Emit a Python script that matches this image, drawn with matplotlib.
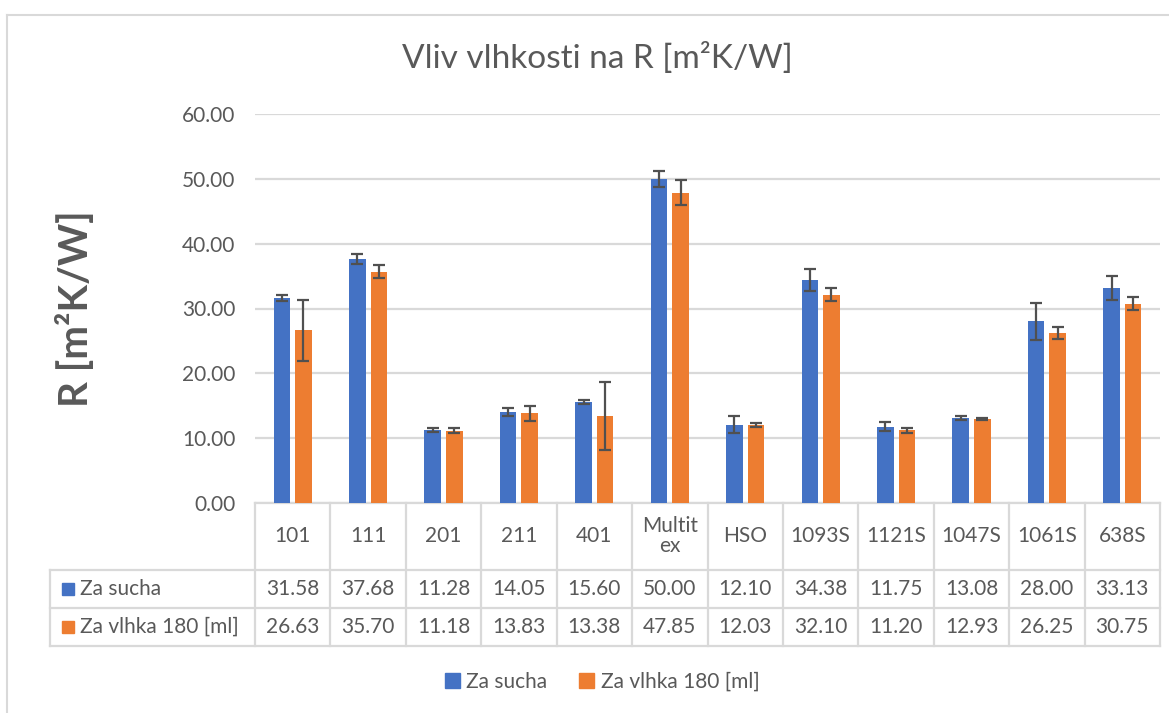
import matplotlib.pyplot as plt
import numpy as np
from matplotlib.patches import Patch, Rectangle
from matplotlib.lines import Line2D
from matplotlib.transforms import blended_transform_factory

# data
labels = ["101", "111", "201", "211", "401", "Multit\nex", "HSO",
          "1093S", "1121S", "1047S", "1061S", "638S"]
sucha = [31.58, 37.68, 11.28, 14.05, 15.60, 50.00, 12.10, 34.38, 11.75, 13.08, 28.00, 33.13]
vlhka = [26.63, 35.70, 11.18, 13.83, 13.38, 47.85, 12.03, 32.10, 11.20, 12.93, 26.25, 30.75]
sucha_err = [0.5, 0.8, 0.35, 0.6, 0.33, 1.2, 1.3, 1.65, 0.7, 0.3, 2.8, 1.85]
vlhka_err = [4.7, 0.95, 0.35, 1.15, 5.25, 1.9, 0.38, 1.0, 0.35, 0.15, 0.95, 1.03]
series_names = ["Za sucha", "Za vlhka 180 [ml]"]
yticks = [0, 10, 20, 30, 40, 50, 60]

blue = "#4472C4"
orange = "#ED7D31"
txt = "#595959"
grid = "#D9D9D9"
font = "Lato"

plt.rcParams['font.family'] = [font, 'DejaVu Sans']

W, H = 1169, 713
fig = plt.figure(figsize=(W / 100, H / 100), dpi=100)

# plot area in pixels
x0, x1, y_top, y_bot = 255, 1160, 114, 503
ax = fig.add_axes([x0 / W, 1 - y_bot / H, (x1 - x0) / W, (y_bot - y_top) / H])

x = np.arange(len(labels))
bw = 0.22
off = 0.143
ekw = dict(ecolor="#505050", elinewidth=1.6, capsize=4.5, capthick=1.6)
ax.bar(x - off, sucha, bw, color=blue, yerr=sucha_err, error_kw=ekw, zorder=3)
ax.bar(x + off, vlhka, bw, color=orange, yerr=vlhka_err, error_kw=ekw, zorder=3)

ax.set_xlim(-0.5, len(labels) - 0.5)
ax.set_ylim(0, 60)
ax.set_yticks(yticks)
ax.set_yticklabels([f"{v:.2f}" for v in yticks], color=txt, fontsize=15)
ax.tick_params(axis="y", length=0, pad=14)
ax.set_xticks([])
ax.grid(axis="y", color=grid, linewidth=1.6, zorder=0)
for s in ["top", "right", "left", "bottom"]:
    ax.spines[s].set_visible(False)

# data table below the axes
tr = blended_transform_factory(ax.transData, ax.transAxes)
def ay(p):
    return (y_bot - p) / (y_bot - y_top)
def axx(p):
    return (p - x0) / (x1 - x0)

lc = dict(color=grid, linewidth=1.6, clip_on=False)
ax.plot([0, 1], [0, 0], transform=ax.transAxes, **lc)
for yy in [570, 608, 646]:
    ax.plot([axx(50), 1], [ay(yy), ay(yy)], transform=ax.transAxes, **lc)
for i in range(len(labels) + 1):
    ax.plot([i - 0.5, i - 0.5], [0, ay(646)], transform=tr, **lc)
ax.plot([axx(50), axx(50)], [ay(570), ay(646)], transform=ax.transAxes, **lc)

for i, lab in enumerate(labels):
    ax.text(i, ay(536.5), lab, transform=tr, ha="center", va="center",
            fontsize=15, color=txt, linespacing=1.0)
    ax.text(i, ay(589), f"{sucha[i]:.2f}", transform=tr, ha="center", va="center",
            fontsize=15, color=txt)
    ax.text(i, ay(627), f"{vlhka[i]:.2f}", transform=tr, ha="center", va="center",
            fontsize=15, color=txt)

for yy, name, col in [(589, series_names[0], blue), (627, series_names[1], orange)]:
    ax.add_patch(Rectangle((axx(62), ay(yy + 6)), axx(74) - axx(62), ay(yy - 6) - ay(yy + 6),
                           transform=ax.transAxes, color=col, clip_on=False))
    ax.text(axx(80), ay(yy), name, transform=ax.transAxes, ha="left", va="center",
            fontsize=15, color=txt)

# title and axis label
fig.text(597 / W, 1 - 58 / H, "Vliv vlhkosti na R [m²K/W]", ha="center", va="center",
         fontsize=24, color=txt)
fig.text(76 / W, 1 - 309 / H, "R [m²K/W]", ha="center", va="center", rotation=90,
         fontsize=29, color=txt, fontweight="bold")

# legend
handles = [Patch(color=blue), Patch(color=orange)]
fig.legend(handles, series_names, loc="center", bbox_to_anchor=(602 / W, 1 - 682 / H),
           ncol=2, frameon=False, fontsize=15, handlelength=0.75, handleheight=0.75,
           handletextpad=0.3, columnspacing=1.5, labelcolor=txt)

# chart border
fig.add_artist(Line2D([7 / W, 7 / W], [0, 1 - 15 / H], color=grid, linewidth=1.5))
fig.add_artist(Line2D([7 / W, 1], [1 - 15 / H, 1 - 15 / H], color=grid, linewidth=1.5))

fig.savefig("out.png", dpi=100)
